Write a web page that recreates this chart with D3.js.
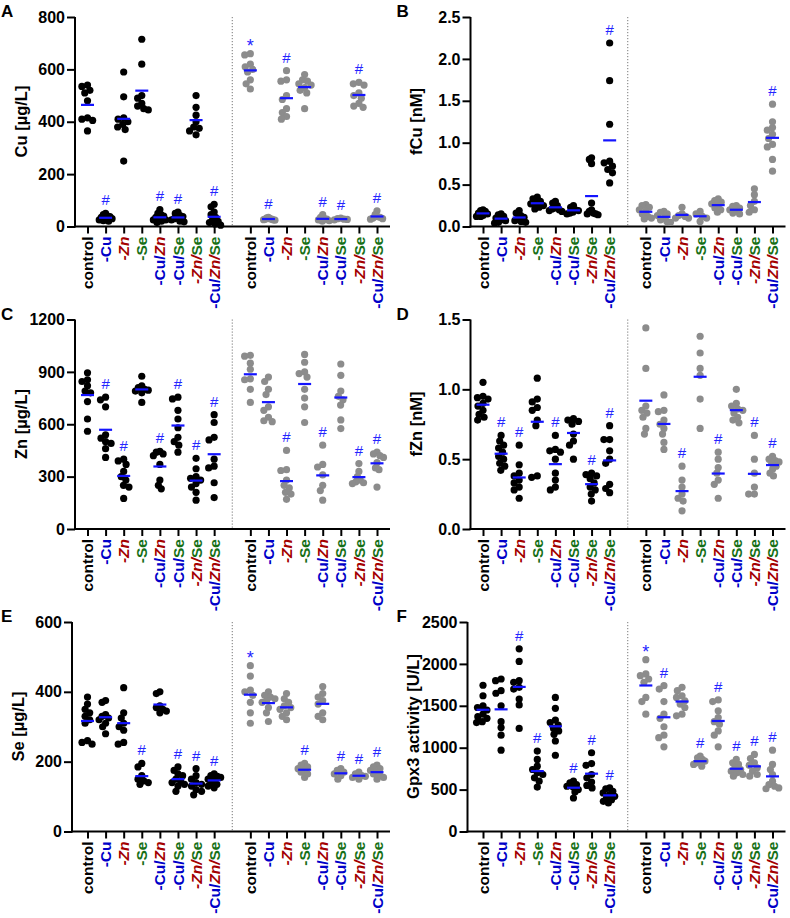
<!DOCTYPE html>
<html>
<head>
<meta charset="utf-8">
<script src="https://cdn.jsdelivr.net/npm/d3@7"></script>
<style>
  body { margin: 0; background: #fff; }
  text { font-family: "Liberation Sans", Arial, sans-serif; }
</style>
</head>
<body>
<script>
// groups shown on every x axis (black dots first, then grey dots)
const groups = ['control', '-Cu', '-Zn', '-Se', '-Cu/Zn', '-Cu/Se', '-Zn/Se', '-Cu/Zn/Se'];

// A: Cu [µg/L]
const cuBlack = [
  [540, 535, 520, 510, 480, 415, 410, 405, 365],
  [50, 45, 40, 38, 35, 30, 28, 25, 22, 20],
  [590, 495, 415, 410, 400, 390, 380, 370, 250],
  [715, 620, 500, 490, 470, 460, 450, 445],
  [65, 50, 45, 40, 35, 30, 25, 20, 15, 25],
  [55, 50, 42, 38, 33, 30, 25, 20, 18],
  [500, 455, 425, 400, 380, 375, 365, 350],
  [85, 75, 55, 45, 35, 25, 20, 15, 10, 5],
];
const cuGray = [
  [660, 655, 620, 610, 600, 590, 560, 545, 525],
  [35, 33, 30, 28, 28, 26, 25, 24],
  [595, 560, 555, 500, 485, 450, 435, 420, 410],
  [580, 560, 555, 545, 540, 530, 520, 510, 450],
  [45, 35, 30, 28, 25, 22, 20],
  [32, 30, 28, 27, 25],
  [550, 545, 540, 510, 500, 490, 470, 460, 455],
  [60, 45, 38, 35, 32, 30, 28],
];
const cuSig = ['', '#', '', '', '#', '#', '', '#', '*', '#', '#', '', '#', '#', '#', '#'];

// B: fCu [nM]
const fcuBlack = [
  [0.2, 0.19, 0.18, 0.16, 0.15, 0.13, 0.12, 0.12],
  [0.15, 0.14, 0.12, 0.1, 0.08, 0.07, 0.05, 0.04],
  [0.19, 0.16, 0.13, 0.11, 0.09, 0.07, 0.06, 0.05],
  [0.35, 0.33, 0.3, 0.28, 0.27, 0.25, 0.23, 0.21],
  [0.3, 0.28, 0.25, 0.22, 0.21, 0.2, 0.19, 0.18],
  [0.25, 0.23, 0.2, 0.19, 0.17, 0.16, 0.15],
  [0.82, 0.8, 0.75, 0.28, 0.2, 0.18, 0.16, 0.15, 0.15, 0.14],
  [2.19, 1.74, 1.22, 0.78, 0.76, 0.72, 0.68, 0.64, 0.52],
];
const fcuGray = [
  [0.26, 0.25, 0.23, 0.2, 0.18, 0.15, 0.12, 0.1, 0.09],
  [0.18, 0.17, 0.15, 0.13, 0.1, 0.08, 0.06, 0.05],
  [0.23, 0.15, 0.13, 0.12, 0.1, 0.1],
  [0.18, 0.15, 0.12, 0.1, 0.06],
  [0.33, 0.31, 0.29, 0.27, 0.25, 0.22, 0.2, 0.17],
  [0.25, 0.24, 0.22, 0.2, 0.18, 0.16, 0.15],
  [0.45, 0.38, 0.3, 0.25, 0.2, 0.17],
  [1.46, 1.25, 1.18, 1.15, 1.1, 1.05, 0.98, 0.95, 0.8, 0.66],
];
const fcuSig = ['', '', '', '', '', '', '', '#', '', '', '', '', '', '', '', '#'];

// C: Zn [µg/L]
const znBlack = [
  [895, 855, 845, 820, 790, 780, 730, 630, 560],
  [755, 740, 700, 540, 520, 500, 490, 460, 410],
  [400, 390, 370, 330, 300, 280, 250, 240, 175],
  [875, 820, 810, 800, 795, 790, 780, 725],
  [445, 440, 430, 420, 370, 280, 250, 230],
  [755, 745, 680, 630, 580, 525, 500, 480, 440],
  [405, 345, 300, 290, 280, 260, 240, 210, 165],
  [655, 610, 525, 510, 400, 360, 350, 265, 180],
];
const znGray = [
  [995, 990, 950, 915, 860, 855, 800, 725],
  [870, 845, 800, 770, 700, 680, 640, 620, 615],
  [450, 340, 335, 280, 250, 235, 210, 200, 170],
  [1000, 955, 900, 890, 870, 800, 750, 700, 610],
  [480, 370, 355, 310, 250, 220, 165],
  [945, 880, 790, 760, 740, 710, 625, 575],
  [375, 330, 300, 280, 270, 265, 260],
  [440, 430, 420, 410, 380, 350, 340, 240],
];
const znSig = ['', '#', '#', '', '#', '#', '#', '#', '', '', '#', '', '#', '', '#', '#'];

// D: fZn [nM]
const fznBlack = [
  [1.05, 0.95, 0.94, 0.93, 0.9, 0.88, 0.85, 0.82, 0.8, 0.78],
  [0.67, 0.63, 0.6, 0.58, 0.55, 0.52, 0.5, 0.47, 0.45, 0.42],
  [0.6, 0.46, 0.4, 0.38, 0.35, 0.33, 0.3, 0.28, 0.22],
  [1.08, 0.93, 0.91, 0.87, 0.85, 0.78, 0.74, 0.38, 0.37],
  [0.67, 0.57, 0.56, 0.55, 0.5, 0.4, 0.35, 0.3, 0.28],
  [0.79, 0.78, 0.77, 0.75, 0.68, 0.63, 0.6, 0.5],
  [0.4, 0.39, 0.38, 0.36, 0.33, 0.3, 0.28, 0.25, 0.2],
  [0.74, 0.64, 0.64, 0.56, 0.5, 0.47, 0.32, 0.29, 0.26],
];
const fznGray = [
  [1.44, 1.15, 0.88, 0.85, 0.83, 0.8, 0.72, 0.68],
  [0.96, 0.85, 0.84, 0.78, 0.75, 0.72, 0.68, 0.62, 0.57],
  [0.45, 0.35, 0.3, 0.25, 0.22, 0.2, 0.13],
  [1.38, 1.26, 1.15, 1.1, 0.93, 0.72],
  [0.55, 0.5, 0.44, 0.4, 0.35, 0.32, 0.22],
  [1.0, 0.9, 0.88, 0.86, 0.85, 0.83, 0.8, 0.78, 0.76],
  [0.67, 0.5, 0.4, 0.3, 0.25, 0.25],
  [0.52, 0.5, 0.49, 0.48, 0.47, 0.45, 0.43, 0.4, 0.38],
];
const fznSig = ['', '#', '#', '', '#', '', '#', '#', '', '', '#', '', '#', '', '#', '#'];

// E: Se [µg/L]
const seBlack = [
  [385, 365, 350, 340, 330, 320, 310, 260, 255, 250],
  [375, 370, 335, 330, 325, 320, 310, 300, 280],
  [412, 340, 325, 310, 300, 290, 255, 250],
  [195, 185, 160, 150, 145, 140, 135],
  [400, 395, 360, 355, 350, 345, 340],
  [185, 175, 165, 160, 150, 145, 140, 135, 130, 115],
  [180, 160, 150, 140, 135, 130, 120, 115, 105],
  [165, 160, 158, 155, 150, 145, 140, 135, 130, 125],
];
const seGray = [
  [475, 445, 405, 400, 390, 370, 340, 310],
  [400, 390, 385, 380, 375, 370, 355, 340, 315],
  [395, 380, 370, 360, 355, 350, 340, 330, 320],
  [195, 190, 185, 180, 175, 170, 165, 155],
  [415, 395, 385, 375, 365, 340, 330, 320],
  [180, 175, 170, 165, 160, 150],
  [170, 165, 160, 158, 155, 150],
  [190, 185, 180, 175, 170, 165, 160, 155, 150],
];
const seSig = ['', '', '', '#', '', '#', '#', '#', '*', '', '', '#', '', '#', '#', '#'];

// F: Gpx3 activity [U/L]
const gpxBlack = [
  [1745, 1620, 1500, 1480, 1450, 1400, 1370, 1350, 1310, 1300],
  [1820, 1800, 1680, 1650, 1500, 1310, 1240, 1150, 970],
  [2180, 2030, 1800, 1780, 1720, 1700, 1580, 1510, 1230],
  [960, 860, 780, 740, 700, 680, 640, 600, 530],
  [1600, 1470, 1330, 1300, 1270, 1230, 1200, 1160, 1080, 910],
  [600, 580, 560, 540, 530, 500, 470, 400],
  [940, 810, 790, 680, 640, 590, 550, 520],
  [520, 510, 480, 460, 440, 420, 400, 380, 360, 340],
];
const gpxGray = [
  [2050, 1880, 1860, 1820, 1780, 1600, 1550, 1400],
  [1740, 1700, 1550, 1400, 1350, 1250, 1150, 1120, 1010],
  [1720, 1680, 1620, 1600, 1560, 1520, 1480, 1400, 1380],
  [900, 880, 860, 840, 830, 820, 800, 780],
  [1570, 1550, 1440, 1360, 1310, 1280, 1200, 1150, 1010],
  [860, 820, 800, 760, 740, 720, 700, 680, 660],
  [920, 870, 820, 790, 760, 720, 680, 660],
  [970, 800, 740, 680, 600, 560, 540, 520, 510],
];
const gpxSig = ['', '', '#', '#', '', '#', '#', '#', '*', '#', '', '#', '#', '#', '#', '#'];

const panels = [
  { letter: 'A', title: 'Cu [µg/L]', ticks: [0, 200, 400, 600, 800], fmt: 'd', black: cuBlack, gray: cuGray, sig: cuSig },
  { letter: 'B', title: 'fCu [nM]', ticks: [0, 0.5, 1, 1.5, 2, 2.5], fmt: '.1f', black: fcuBlack, gray: fcuGray, sig: fcuSig },
  { letter: 'C', title: 'Zn [µg/L]', ticks: [0, 300, 600, 900, 1200], fmt: 'd', black: znBlack, gray: znGray, sig: znSig },
  { letter: 'D', title: 'fZn [nM]', ticks: [0, 0.5, 1, 1.5], fmt: '.1f', black: fznBlack, gray: fznGray, sig: fznSig },
  { letter: 'E', title: 'Se [µg/L]', ticks: [0, 200, 400, 600], fmt: 'd', black: seBlack, gray: seGray, sig: seSig },
  { letter: 'F', title: 'Gpx3 activity [U/L]', ticks: [0, 500, 1000, 1500, 2000, 2500], fmt: 'd', black: gpxBlack, gray: gpxGray, sig: gpxSig },
];

const BLUE = '#0000c8';
const RED = '#a30000';
const GREEN = '#177017';
const MEAN = '#1414ff';
const DOT_R = 3.6;
const MAX_SPREAD = 6.5;

const svg = d3.select('body').append('svg')
  .attr('width', 790)
  .attr('height', 918);

// dodge layout, then squeezed into a narrow column (dots may overlap)
function swarm(values, y) {
  const d = DOT_R * 2 * 0.8;
  const pts = values.map((v) => ({ v: v, py: y(v), dx: 0 }))
    .sort((a, b) => a.py - b.py);
  const placed = [];
  pts.forEach((p) => {
    let cands = [0];
    placed.forEach((q) => {
      const dy = p.py - q.py;
      if (Math.abs(dy) < d) {
        const w = Math.sqrt(d * d - dy * dy);
        cands.push(q.dx - w, q.dx + w);
      }
    });
    cands.sort((a, b) => Math.abs(a) - Math.abs(b));
    p.dx = cands.find((c) => placed.every((q) => (c - q.dx) ** 2 + (p.py - q.py) ** 2 >= d * d - 0.01));
    placed.push(p);
  });
  const widest = d3.max(placed, (p) => Math.abs(p.dx));
  if (widest > MAX_SPREAD) {
    placed.forEach((p) => { p.dx *= MAX_SPREAD / widest; });
  }
  return placed;
}

// split '-Cu/Zn/Se' into coloured parts
function labelParts(name) {
  if (name === 'control') return [{ t: name, c: '#000', it: false }];
  const colors = { Cu: BLUE, Zn: RED, Se: GREEN };
  return name.match(/-?(Cu|Zn|Se)\/?/g).map((t) => {
    const el = t.replace(/[-\/]/g, '');
    return { t: t, c: colors[el], it: el === 'Zn' };
  });
}

panels.forEach((p, k) => {
  const col = k % 2;
  const row = Math.floor(k / 2);
  const ox = col * 395.5;
  const oy = row * 302.5;
  const axisX = ox + (row === 2 ? 72 : 75);
  const g = svg.append('g');

  const y = d3.scaleLinear()
    .domain([0, d3.max(p.ticks)])
    .range([oy + 226.5, oy + 17]);

  // 17 slots: 8 black groups, a gap, 8 grey groups
  const x = d3.scalePoint()
    .domain(d3.range(17))
    .range([ox + 87.5, ox + 377]);

  // panel letter
  g.append('text')
    .attr('x', ox + 1)
    .attr('y', oy + 17)
    .attr('font-size', 17)
    .attr('font-weight', 'bold')
    .text(p.letter);

  // y axis title
  g.append('text')
    .attr('transform', 'translate(' + (axisX - 54) + ',' + (oy + 121.5) + ') rotate(-90)')
    .attr('text-anchor', 'middle')
    .attr('dy', '0.35em')
    .attr('font-size', 16.5)
    .attr('font-weight', 'bold')
    .text(p.title);

  // separator between the two groups
  g.append('line')
    .attr('x1', x(8)).attr('x2', x(8))
    .attr('y1', oy + 17).attr('y2', y(0))
    .attr('stroke', '#777')
    .attr('stroke-width', 1)
    .attr('stroke-dasharray', '1.2,1.8');

  // y axis
  const yAxis = d3.axisLeft(y)
    .tickValues(p.ticks)
    .tickFormat(d3.format(p.fmt))
    .tickSize(8)
    .tickSizeOuter(0)
    .tickPadding(2);
  const ya = g.append('g')
    .attr('transform', 'translate(' + axisX + ',0)')
    .call(yAxis);
  ya.select('.domain').attr('stroke-width', 2).attr('d', 'M0,' + (y(0) + 1) + 'V' + y(d3.max(p.ticks)));
  ya.selectAll('.tick line').attr('stroke-width', 2);
  ya.selectAll('.tick text')
    .attr('font-size', 16)
    .attr('font-weight', 'bold')
    .attr('font-family', '"Liberation Sans", Arial, sans-serif')
    .attr('fill', '#000');

  // x axis
  const slots = d3.range(17).filter((i) => i !== 8);
  const xAxis = d3.axisBottom(x)
    .tickValues(slots)
    .tickFormat('')
    .tickSize(7)
    .tickSizeOuter(0);
  const xa = g.append('g')
    .attr('transform', 'translate(0,' + y(0) + ')')
    .call(xAxis);
  xa.select('.domain').remove();
  xa.selectAll('.tick line').attr('stroke-width', 2);
  g.append('line')
    .attr('x1', axisX - 1).attr('x2', ox + 390)
    .attr('y1', y(0)).attr('y2', y(0))
    .attr('stroke', '#000')
    .attr('stroke-width', 2);

  slots.forEach((i) => {
    const name = groups[i < 8 ? i : i - 9];
    const t = g.append('text')
      .attr('transform', 'translate(' + x(i) + ',' + (y(0) + 10) + ') rotate(-90)')
      .attr('text-anchor', 'end')
      .attr('dy', '0.36em')
      .attr('font-size', 15.5)
      .attr('font-weight', 'bold');
    labelParts(name).forEach((part) => {
      t.append('tspan')
        .attr('fill', part.c)
        .attr('font-style', part.it ? 'italic' : 'normal')
        .text(part.t);
    });
  });

  // dots, mean lines and marks
  slots.forEach((i) => {
    const isGray = i > 8;
    const vals = isGray ? p.gray[i - 9] : p.black[i];
    const cx = x(i);
    const pts = swarm(vals, y);

    g.selectAll(null)
      .data(pts)
      .enter().append('circle')
      .attr('cx', (d) => cx + d.dx)
      .attr('cy', (d) => d.py)
      .attr('r', DOT_R)
      .attr('fill', isGray ? '#8c8c8c' : '#000');

    const m = d3.mean(vals);
    g.append('line')
      .attr('x1', cx - 6.5).attr('x2', cx + 6.5)
      .attr('y1', y(m)).attr('y2', y(m))
      .attr('stroke', MEAN)
      .attr('stroke-width', 2.2);

    const s = p.sig[i < 8 ? i : i - 1];
    if (s) {
      g.append('text')
        .attr('x', cx)
        .attr('y', y(d3.max(vals)) - (s === '*' ? 2 : 8))
        .attr('text-anchor', 'middle')
        .attr('font-size', s === '*' ? 18 : 15)
        .attr('fill', '#2424ff')
        .text(s);
    }
  });
});
</script>
</body>
</html>
